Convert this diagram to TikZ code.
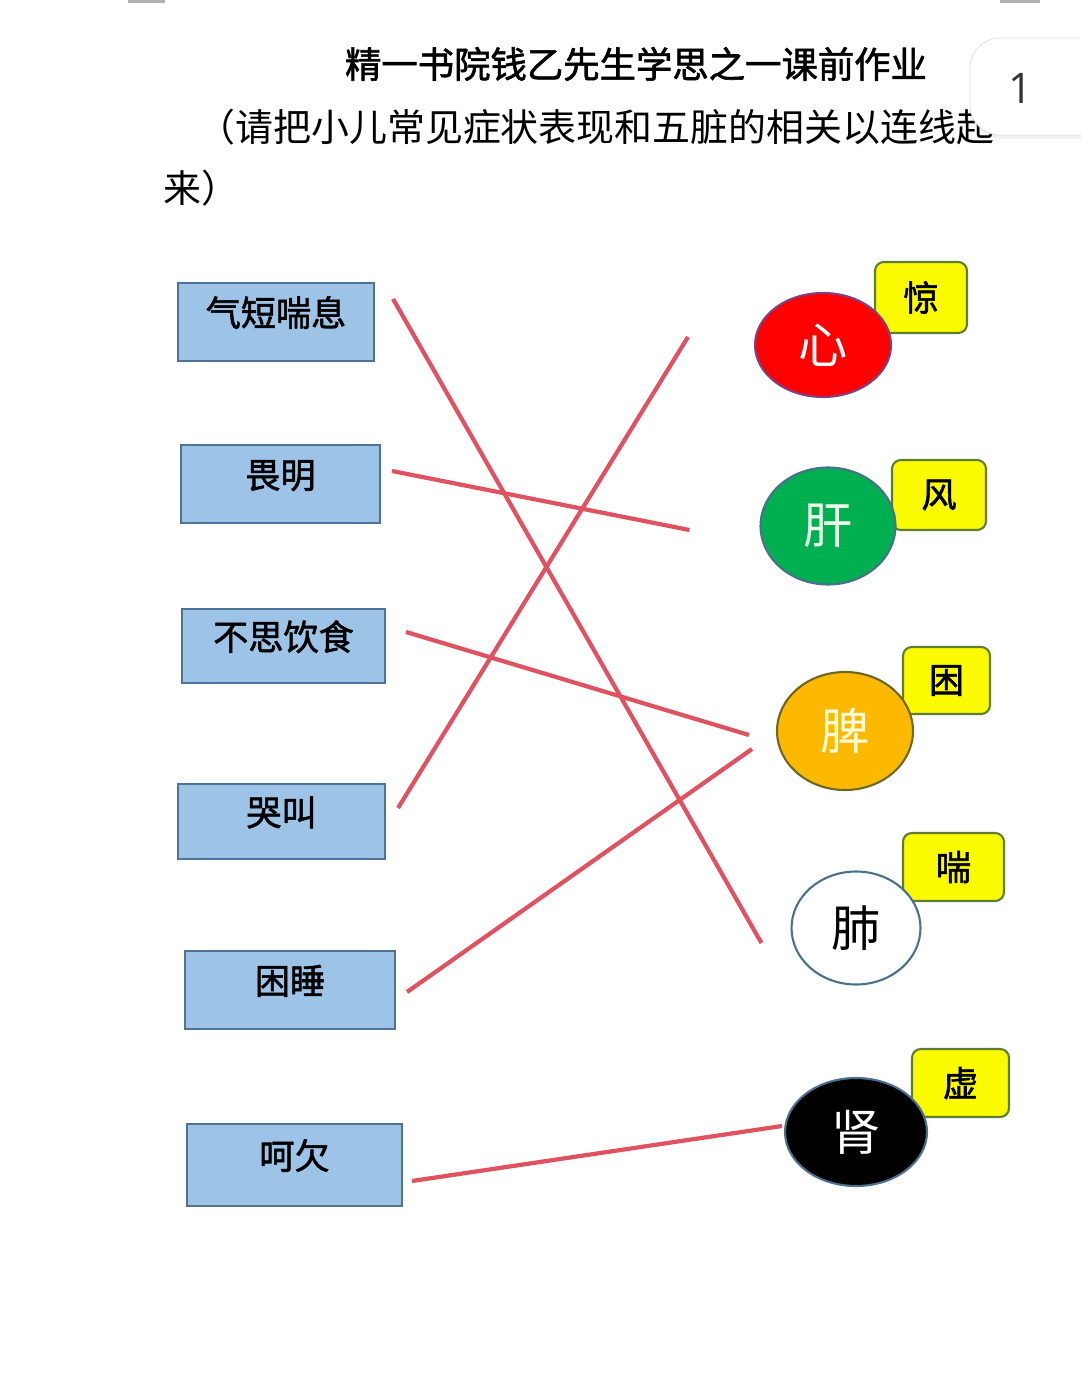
\documentclass[tikz,border=0pt]{standalone}
\usepackage{fontspec}
\setmainfont{Noto Sans CJK SC}
\newfontfamily\cjkheavy[FakeBold=1.6]{Noto Sans CJK SC}
\newfontfamily\numfont{Open Sans}
\usetikzlibrary{shapes.geometric,shadows}
\definecolor{symfill}{HTML}{9DC3E6}
\definecolor{symdraw}{HTML}{4F7395}
\definecolor{linkred}{HTML}{E05260}
\definecolor{tagfill}{HTML}{FAFA00}
\definecolor{tagdraw}{HTML}{5E7C34}
\definecolor{xinred}{HTML}{FF0000}
\definecolor{gangreen}{HTML}{00B050}
\definecolor{piorange}{HTML}{FCB900}
\definecolor{edgeblue}{HTML}{4A7090}
\begin{document}
\begin{tikzpicture}[x=0.02cm,y=-0.02cm,
    symptom/.style={draw=symdraw,fill=symfill,line width=1.2pt,inner sep=0pt,
      text height=0.88em,text depth=0.42em,font=\cjkheavy\fontsize{20}{24}\selectfont},
    organ/.style={ellipse,inner sep=0pt,line width=1.2pt,font=\fontsize{28}{32}\selectfont},
    tag/.style={draw=tagdraw,fill=tagfill,line width=1.2pt,rounded corners=5pt,
      inner sep=0pt,font=\cjkheavy\fontsize{20}{24}\selectfont},
    link/.style={draw=linkred,line width=2.4pt}]
  \useasboundingbox (0,0) rectangle (1080,1388);
  \fill[gray!60] (128,0) rectangle (165,3);
  \fill[gray!60] (1000,0) rectangle (1040,3);
  % heading
  \node[font=\cjkheavy\fontsize{20.7}{24}\selectfont] (title) at (636,64) {精一书院钱乙先生学思之一课前作业};
  \node[anchor=west,inner sep=0pt,font=\fontsize{21.6}{26}\selectfont] (ask) at (197,127) {（请把小儿常见症状表现和五脏的相关以连线起};
  \node[anchor=west,inner sep=0pt,font=\fontsize{21.6}{26}\selectfont] (ask2) at (163,188) {来）};
  \draw[draw=gray!25,fill=white,rounded corners=0.6cm,drop shadow={opacity=0.12,shadow xshift=0pt,shadow yshift=-2pt}]
    (970,38) rectangle (1110,135);
  \node[font=\numfont\fontsize{24}{28}\selectfont,text=black!80] (page) at (1021,88) {1};
  % symptoms
  \node[symptom,minimum width=3.92cm,minimum height=1.56cm] (qi) at (276,322) {气短喘息};
  \node[symptom,minimum width=3.98cm,minimum height=1.56cm] (wei) at (280.5,484) {畏明};
  \node[symptom,minimum width=4.06cm,minimum height=1.48cm] (busi) at (283.5,646) {不思饮食};
  \node[symptom,minimum width=4.14cm,minimum height=1.50cm] (ku) at (281.5,821.5) {哭叫};
  \node[symptom,minimum width=4.20cm,minimum height=1.56cm] (kun) at (290,990) {困睡};
  \node[symptom,minimum width=4.30cm,minimum height=1.64cm] (he) at (294.5,1165) {呵欠};
  % tags
  \node[tag,minimum width=1.84cm,minimum height=1.42cm] (jing) at (921,297.5) {惊};
  \node[tag,minimum width=1.88cm,minimum height=1.40cm] (feng) at (939,495) {风};
  \node[tag,minimum width=1.74cm,minimum height=1.34cm] (kunt) at (946.5,680.5) {困};
  \node[tag,minimum width=2.02cm,minimum height=1.36cm] (chuan) at (953.5,867) {喘};
  \node[tag,minimum width=1.94cm,minimum height=1.36cm] (xu) at (960.5,1083) {虚};
  % organs
  \node[organ,fill=xinred,draw=violet!50!gray,text=white,minimum width=2.72cm,minimum height=2.08cm] (xin) at (823,345) {心};
  \node[organ,fill=gangreen,draw=edgeblue,text=green!8,minimum width=2.70cm,minimum height=2.34cm] (gan) at (828,526) {肝};
  \node[organ,fill=piorange,draw=olive!70!black,text=yellow!15,minimum width=2.72cm,minimum height=2.36cm] (pi) at (845,731) {脾};
  \node[organ,fill=white,draw=edgeblue,text=black,minimum width=2.58cm,minimum height=2.26cm] (fei) at (856,928) {肺};
  \node[organ,fill=black,draw=edgeblue,text=white,minimum width=2.84cm,minimum height=2.16cm] (shen) at (856,1132) {肾};
  \begin{scope}[link]
    \draw ([shift={(18,17)}]qi.north east) -- ([shift={(-29,15)}]fei.west);
    \draw ([shift={(11,-13)}]wei.east) -- ([shift={(-70,4)}]gan.west);
    \draw ([shift={(20,-14)}]busi.east) -- ([shift={(-27,4)}]pi.west);
    \draw ([shift={(12,-13.5)}]ku.east) -- ([shift={(-66,-8)}]xin.west);
    \draw ([shift={(11,2)}]kun.east) -- ([shift={(-24,18)}]pi.west);
    \draw ([shift={(9,16)}]he.east) -- ([shift={(-2,-6)}]shen.west);
  \end{scope}
\end{tikzpicture}
\end{document}
